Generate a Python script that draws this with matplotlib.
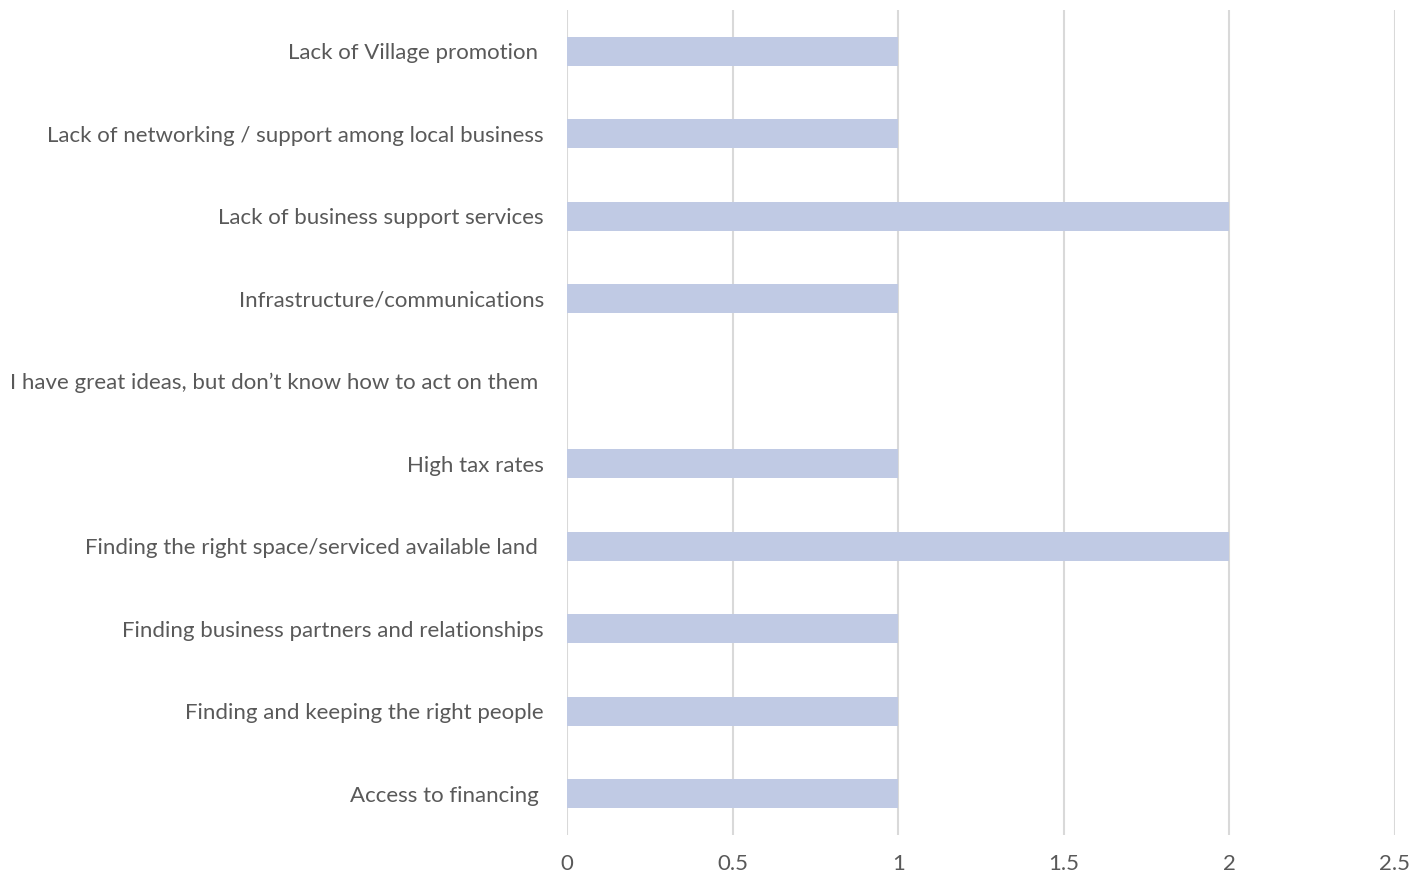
import matplotlib
matplotlib.use("Agg")
import matplotlib.pyplot as plt

categories = [
    "Access to financing ",
    "Finding and keeping the right people",
    "Finding business partners and relationships",
    "Finding the right space/serviced available land ",
    "High tax rates",
    "I have great ideas, but don\u2019t know how to act on them ",
    "Infrastructure/communications",
    "Lack of business support services",
    "Lack of networking / support among local business",
    "Lack of Village promotion ",
]
values = [1, 1, 1, 2, 1, 0, 1, 2, 1, 1]
xticks = [0, 0.5, 1, 1.5, 2, 2.5]
xticklabels = ["0", "0.5", "1", "1.5", "2", "2.5"]

plt.rcParams['font.family'] = ['Lato', 'DejaVu Sans']

fig = plt.figure(figsize=(14.26, 8.76), dpi=100)
ax = fig.add_axes([567/1426, 1-835/876, (1395-567)/1426, (835-10)/876])

ypos = list(range(len(categories)))
ax.barh(ypos, values, height=0.35, color="#C0CAE4", linewidth=0, zorder=3)
ax.set_xlim(0, 2.5)
ax.set_ylim(-0.5, len(categories) - 0.5)
ax.set_yticks(ypos)
ax.set_yticklabels(categories, fontsize=16, color="#595959")
ax.set_xticks(xticks)
ax.set_xticklabels(xticklabels, fontsize=16, color="#595959")
ax.tick_params(axis='y', length=0, pad=16.5)
ax.tick_params(axis='x', length=0, pad=14)
ax.grid(axis='x', color="#D9D9D9", linewidth=1.5, zorder=0)
for s in ax.spines.values():
    s.set_visible(False)

fig.savefig("out.png", dpi=100)
